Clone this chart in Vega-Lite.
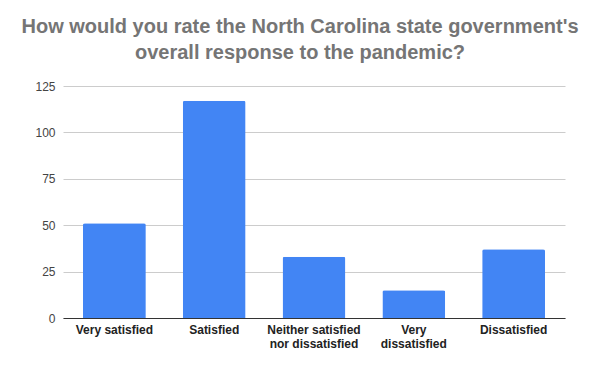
{
  "$schema": "https://vega.github.io/schema/vega-lite/v6.json",
  "width": 502,
  "height": 232,
  "autosize": {"type": "none"},
  "padding": {"left": 63, "top": 86, "right": 35, "bottom": 53},
  "background": "white",
  "title": {
    "text": ["How would you rate the North Carolina state government's", "overall response to the pandemic?"],
    "font": "Liberation Sans",
    "fontSize": 20,
    "fontWeight": "bold",
    "color": "#757575",
    "anchor": "middle",
    "frame": "group",
    "dx": -14,
    "offset": 17,
    "lineHeight": 26
  },
  "data": {
    "values": [
      {"response": "Very satisfied", "count": 51},
      {"response": "Satisfied", "count": 117},
      {"response": "Neither satisfied nor dissatisfied", "count": 33},
      {"response": "Very dissatisfied", "count": 15},
      {"response": "Dissatisfied", "count": 37}
    ]
  },
  "mark": {"type": "bar", "color": "#4285F4", "cornerRadiusTopLeft": 2, "cornerRadiusTopRight": 2},
  "encoding": {
    "x": {
      "field": "response",
      "type": "nominal",
      "sort": null,
      "scale": {"paddingInner": 0.37, "paddingOuter": 0.2},
      "axis": {
        "title": null,
        "labelAngle": 0,
        "labelFont": "Liberation Sans",
        "labelFontSize": 12,
        "labelFontWeight": "bold",
        "labelColor": "#222222",
        "labelPadding": 6,
        "labelLineHeight": 14,
        "ticks": false,
        "domainColor": "#333333",
        "labelExpr": "datum.value == 'Neither satisfied nor dissatisfied' ? ['Neither satisfied', 'nor dissatisfied'] : datum.value == 'Very dissatisfied' ? ['Very', 'dissatisfied'] : datum.value"
      }
    },
    "y": {
      "field": "count",
      "type": "quantitative",
      "scale": {"domain": [0, 125]},
      "axis": {
        "title": null,
        "values": [0, 25, 50, 75, 100, 125],
        "labelFont": "Liberation Sans",
        "labelFontSize": 12,
        "labelColor": "#444444",
        "labelPadding": 8,
        "ticks": false,
        "domain": false,
        "gridColor": "#cccccc"
      }
    }
  },
  "config": {"view": {"stroke": null}}
}
